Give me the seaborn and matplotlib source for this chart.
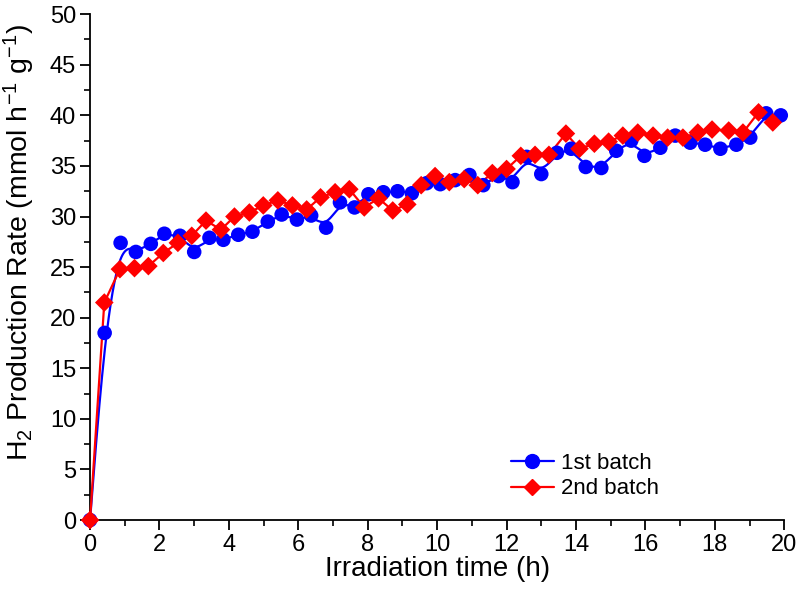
import numpy as np
import pandas as pd
import matplotlib
matplotlib.use('Agg')
import matplotlib.pyplot as plt
import seaborn as sns
from matplotlib.lines import Line2D
from matplotlib.ticker import MultipleLocator

# ------------------------------------------------------------
# data
# ------------------------------------------------------------
time_1st = [0, 0.42, 0.88, 1.32, 1.75, 2.14, 2.59, 3.0, 3.44, 3.84, 4.27, 4.68,
            5.12, 5.52, 5.96, 6.37, 6.80, 7.20, 7.62, 8.02, 8.45, 8.86, 9.27, 9.70,
            10.09, 10.52, 10.93, 11.33, 11.77, 12.17, 12.58, 13.0, 13.45, 13.86, 14.28, 14.73,
            15.16, 15.59, 15.97, 16.43, 16.86, 17.29, 17.72, 18.16, 18.62, 19.02, 19.48, 19.9]
rate_1st = [0, 18.5, 27.4, 26.5, 27.3, 28.3, 28.1, 26.5, 27.9, 27.7, 28.2, 28.5,
            29.5, 30.2, 29.7, 30.1, 28.9, 31.4, 30.9, 32.2, 32.4, 32.5, 32.3, 33.3,
            33.2, 33.6, 34.1, 33.1, 34.0, 33.4, 35.9, 34.2, 36.3, 36.7, 34.9, 34.8,
            36.5, 37.5, 36.0, 36.8, 38.0, 37.3, 37.1, 36.7, 37.1, 37.8, 40.2, 40.0]

time_2nd = [0, 0.41, 0.86, 1.28, 1.68, 2.11, 2.53, 2.93, 3.34, 3.77, 4.16, 4.59,
            4.99, 5.41, 5.83, 6.24, 6.64, 7.06, 7.47, 7.90, 8.31, 8.72, 9.14, 9.54,
            9.94, 10.35, 10.78, 11.17, 11.59, 12.0, 12.41, 12.82, 13.22, 13.71, 14.10, 14.53,
            14.94, 15.35, 15.78, 16.22, 16.64, 17.08, 17.51, 17.92, 18.4, 18.81, 19.26, 19.67]
rate_2nd = [0, 21.5, 24.8, 24.9, 25.1, 26.4, 27.4, 28.1, 29.6, 28.7, 30.0, 30.4,
            31.1, 31.6, 31.1, 30.7, 31.9, 32.4, 32.7, 30.9, 31.8, 30.6, 31.2, 33.1,
            34.0, 33.4, 33.7, 33.1, 34.3, 34.7, 36.0, 36.1, 36.1, 38.2, 36.7, 37.2,
            37.4, 38.0, 38.3, 38.0, 37.8, 37.8, 38.3, 38.6, 38.5, 38.3, 40.3, 39.3]


def bspline(x, y, n=16):
    """uniform cubic B-spline through the points (ends clamped), like Origin's smooth connect"""
    px = np.r_[x[0], x[0], x, x[-1], x[-1]]
    py = np.r_[y[0], y[0], y, y[-1], y[-1]]
    t = np.linspace(0, 1, n, endpoint=False)
    b0 = (1 - t) ** 3 / 6
    b1 = (3 * t ** 3 - 6 * t ** 2 + 4) / 6
    b2 = (-3 * t ** 3 + 3 * t ** 2 + 3 * t + 1) / 6
    b3 = t ** 3 / 6
    xs, ys = [], []
    for i in range(len(px) - 3):
        xs.append(b0 * px[i] + b1 * px[i + 1] + b2 * px[i + 2] + b3 * px[i + 3])
        ys.append(b0 * py[i] + b1 * py[i + 1] + b2 * py[i + 2] + b3 * py[i + 3])
    return np.r_[np.concatenate(xs), x[-1]], np.r_[np.concatenate(ys), y[-1]]


sns.set_style('ticks')
plt.rcParams['font.family'] = ['Liberation Sans', 'DejaVu Sans']
plt.rcParams['mathtext.default'] = 'regular'
plt.rcParams['text.color'] = 'black'
plt.rcParams['axes.labelcolor'] = 'black'

BLUE = '#0000FF'
RED = '#FF0000'

fig = plt.figure(figsize=(7.97, 5.91), dpi=100)
ax = fig.add_axes([0.113, 0.12, 0.871, 0.856])

df1 = pd.DataFrame({'t': time_1st, 'r': rate_1st})
df2 = pd.DataFrame({'t': time_2nd, 'r': rate_2nd})

sx, sy = bspline(np.array(time_1st, float), np.array(rate_1st, float))
sns.lineplot(x=sx, y=sy, sort=False, color=BLUE, lw=1.6, ax=ax, zorder=2)
sns.lineplot(data=df2, x='t', y='r', sort=False, color=RED, lw=1.6, ax=ax, zorder=3)
sns.scatterplot(data=df1, x='t', y='r', color=BLUE, marker='o', s=110,
                edgecolor='none', ax=ax, zorder=4)
sns.scatterplot(data=df2, x='t', y='r', color=RED, marker='D', s=90,
                edgecolor='none', ax=ax, zorder=5)

ax.set_xlim(0, 20)
ax.set_ylim(0, 50)
ax.xaxis.set_major_locator(MultipleLocator(2))
ax.xaxis.set_minor_locator(MultipleLocator(1))
ax.yaxis.set_major_locator(MultipleLocator(5))
ax.yaxis.set_minor_locator(MultipleLocator(2.5))
ax.tick_params(which='major', direction='out', length=7, width=1.3, labelsize=17,
               colors='black', pad=3)
ax.tick_params(which='minor', direction='out', length=4, width=1.2, colors='black')
for side in ('left', 'bottom'):
    ax.spines[side].set_linewidth(1.3)
    ax.spines[side].set_color('black')
sns.despine(ax=ax)
for coll in ax.collections:
    coll.set_clip_on(False)
for ln in ax.lines:
    ln.set_clip_on(False)

ax.set_xlabel('Irradiation time (h)', fontsize=20, labelpad=0, color='black')
ax.set_ylabel(r'H$_2$ Production Rate (mmol h$^{-1}$ g$^{-1}$)', fontsize=20.5, color='black')
ax.yaxis.set_label_coords(-0.077, 0.548)

handles = [Line2D([], [], color=BLUE, marker='o', markersize=10, lw=1.6),
           Line2D([], [], color=RED, marker='D', markersize=8.5, lw=1.6)]
leg = ax.legend(handles, ['1st batch', '2nd batch'], frameon=False, fontsize=16,
                loc='center left', bbox_to_anchor=(0.578, 0.087), handlelength=1.9,
                handletextpad=0.35, labelspacing=0.2)
for txt in leg.get_texts():
    txt.set_color('black')

fig.savefig('out.png', dpi=100)
